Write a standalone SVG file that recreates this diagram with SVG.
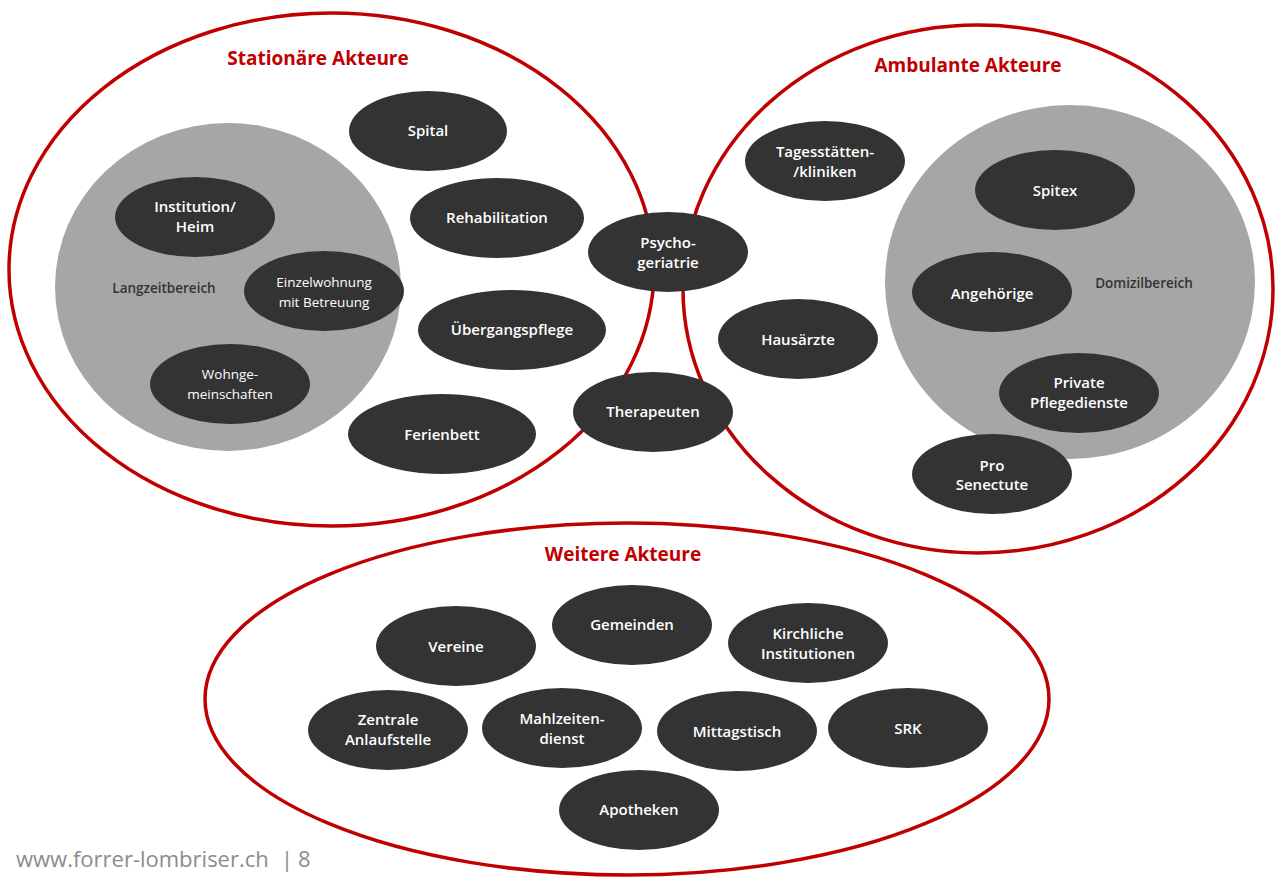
<svg xmlns="http://www.w3.org/2000/svg" width="1275" height="877" viewBox="0 0 1275 877">
<style>
.grp{fill:none;stroke:#C00000;stroke-width:3.5}
.area{fill:#A6A6A6}
.n{fill:#333333}
.t{font-family:"Open Sans","Noto Sans","Liberation Sans",sans-serif;font-size:15px;font-weight:600;fill:#FFFFFF;text-anchor:middle}
.tr{font-family:"Open Sans","Noto Sans","Liberation Sans",sans-serif;font-size:13.5px;font-weight:400;fill:#FFFFFF;text-anchor:middle}
.lbl{font-family:"Open Sans","Noto Sans","Liberation Sans",sans-serif;font-size:13.5px;font-weight:600;fill:#333333;text-anchor:middle}
.title{font-family:"Open Sans","Noto Sans","Liberation Sans",sans-serif;font-size:19px;font-weight:700;fill:#C00000;text-anchor:middle}
.foot{font-family:"Open Sans","Noto Sans","Liberation Sans",sans-serif;font-size:22px;font-weight:400;fill:#8C8C8C}
</style>
<rect width="1275" height="877" fill="#FFFFFF"/>
<g id="groups">
<g id="stationaer"><ellipse class="grp" cx="331.5" cy="269.5" rx="322.5" ry="256.5"/><text class="title" x="318" y="65">Stationäre Akteure</text></g>
<g id="ambulant"><ellipse class="grp" cx="978" cy="289" rx="295" ry="264"/><text class="title" x="968" y="72">Ambulante Akteure</text></g>
<g id="weitere"><ellipse class="grp" cx="627" cy="699" rx="422" ry="176"/><text class="title" x="623" y="561">Weitere Akteure</text></g>
</g>
<g id="areas">
<g id="langzeit"><ellipse class="area" cx="228" cy="287" rx="173" ry="164"/><text class="lbl" x="164" y="293">Langzeitbereich</text></g>
<g id="domizil"><ellipse class="area" cx="1070" cy="282" rx="185" ry="177"/><text class="lbl" x="1144" y="288">Domizilbereich</text></g>
</g>
<g id="connectors"></g>
<g id="n-spital"><ellipse class="n" cx="428" cy="131" rx="79" ry="40"/><text class="t" x="428" y="136">Spital</text></g>
<g id="n-reha"><ellipse class="n" cx="497" cy="218" rx="87" ry="40"/><text class="t" x="497" y="223">Rehabilitation</text></g>
<g id="n-uebergang"><ellipse class="n" cx="512" cy="330" rx="94" ry="40"/><text class="t" x="512" y="335">Übergangspflege</text></g>
<g id="n-ferienbett"><ellipse class="n" cx="442" cy="434" rx="94" ry="40"/><text class="t" x="442" y="440">Ferienbett</text></g>
<g id="n-institution"><ellipse class="n" cx="195" cy="217" rx="80" ry="40"/><text class="t" x="195" y="212">Institution/</text><text class="t" x="195" y="232">Heim</text></g>
<g id="n-einzel"><ellipse class="n" cx="324" cy="291" rx="80" ry="40"/><text class="tr" x="324" y="287">Einzelwohnung</text><text class="tr" x="324" y="307">mit Betreuung</text></g>
<g id="n-wg"><ellipse class="n" cx="230" cy="384" rx="80" ry="40"/><text class="tr" x="230" y="379">Wohnge-</text><text class="tr" x="230" y="399">meinschaften</text></g>
<g id="n-psycho"><ellipse class="n" cx="668" cy="252" rx="80" ry="40"/><text class="t" x="668" y="248">Psycho-</text><text class="t" x="668" y="268">geriatrie</text></g>
<g id="n-therapeuten"><ellipse class="n" cx="653" cy="412" rx="80" ry="40"/><text class="t" x="653" y="417">Therapeuten</text></g>
<g id="n-tages"><ellipse class="n" cx="825" cy="161" rx="80" ry="40"/><text class="t" x="825" y="157">Tagesstätten-</text><text class="t" x="825" y="177">/kliniken</text></g>
<g id="n-hausaerzte"><ellipse class="n" cx="798" cy="339" rx="80" ry="40"/><text class="t" x="798" y="345">Hausärzte</text></g>
<g id="n-spitex"><ellipse class="n" cx="1055" cy="190" rx="80" ry="40"/><text class="t" x="1055" y="196">Spitex</text></g>
<g id="n-angehoerige"><ellipse class="n" cx="992" cy="292" rx="80" ry="40"/><text class="t" x="992" y="299">Angehörige</text></g>
<g id="n-private"><ellipse class="n" cx="1079" cy="393" rx="80" ry="40"/><text class="t" x="1079" y="388">Private</text><text class="t" x="1079" y="408">Pflegedienste</text></g>
<g id="n-pro"><ellipse class="n" cx="992" cy="474" rx="80" ry="40"/><text class="t" x="992" y="471">Pro</text><text class="t" x="992" y="490">Senectute</text></g>
<g id="n-vereine"><ellipse class="n" cx="456" cy="646" rx="80" ry="40"/><text class="t" x="456" y="652">Vereine</text></g>
<g id="n-gemeinden"><ellipse class="n" cx="632" cy="625" rx="80" ry="40"/><text class="t" x="632" y="630">Gemeinden</text></g>
<g id="n-kirche"><ellipse class="n" cx="808" cy="643" rx="80" ry="40"/><text class="t" x="808" y="639">Kirchliche</text><text class="t" x="808" y="659">Institutionen</text></g>
<g id="n-zentrale"><ellipse class="n" cx="388" cy="730" rx="80" ry="40"/><text class="t" x="388" y="725">Zentrale</text><text class="t" x="388" y="745">Anlaufstelle</text></g>
<g id="n-mahlzeiten"><ellipse class="n" cx="562" cy="728" rx="80" ry="40"/><text class="t" x="562" y="724">Mahlzeiten-</text><text class="t" x="562" y="744">dienst</text></g>
<g id="n-mittag"><ellipse class="n" cx="737" cy="731" rx="80" ry="40"/><text class="t" x="737" y="737">Mittagstisch</text></g>
<g id="n-srk"><ellipse class="n" cx="908" cy="728" rx="80" ry="40"/><text class="t" x="908" y="734">SRK</text></g>
<g id="n-apotheken"><ellipse class="n" cx="639" cy="810" rx="80" ry="40"/><text class="t" x="639" y="815">Apotheken</text></g>
<text class="foot" x="16" y="867">www.forrer-lombriser.ch<tspan x="281">|</tspan><tspan x="298">8</tspan></text>
</svg>
